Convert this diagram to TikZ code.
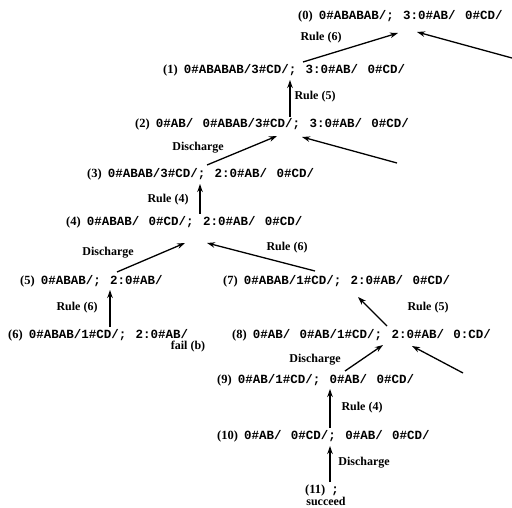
\documentclass[tikz,border=0pt]{standalone}
\usepackage{fontspec}
\setmainfont{Liberation Serif}
\newfontfamily\codefont[WordSpace=1.25]{Liberation Mono}
\usetikzlibrary{arrows.meta}
\newcommand{\cd}[1]{{\codefont\bfseries\fontsize{12.5}{14}\selectfont #1}}
\newcommand{\stp}[2]{(#1)\hspace{6pt}\cd{#2}}
\tikzset{
  line/.style={anchor=west, inner sep=0pt, font=\bfseries\fontsize{12.5}{14}\selectfont},
  lab/.style={inner sep=0pt, font=\bfseries\fontsize{12}{14}\selectfont},
  arr/.style={-{Stealth[length=8pt,width=5.5pt]}, line width=1.3pt},
}
\begin{document}
\begin{tikzpicture}[x=1pt,y=-1pt]
\useasboundingbox (0,0) rectangle (512,508);
\node[line] (n0) at (298,16) {\stp{0}{0\#ABABAB/; 3:0\#AB/ 0\#CD/}};
\node[line] (n1) at (163,70) {\stp{1}{0\#ABABAB/3\#CD/; 3:0\#AB/ 0\#CD/}};
\node[line] (n2) at (135,124) {\stp{2}{0\#AB/ 0\#ABAB/3\#CD/; 3:0\#AB/ 0\#CD/}};
\node[line] (n3) at (87,174) {\stp{3}{0\#ABAB/3\#CD/; 2:0\#AB/ 0\#CD/}};
\node[line] (n4) at (66,222) {\stp{4}{0\#ABAB/ 0\#CD/; 2:0\#AB/ 0\#CD/}};
\node[line] (n5) at (20,281) {\stp{5}{0\#ABAB/; 2:0\#AB/}};
\node[line] (n6) at (8,335) {\stp{6}{0\#ABAB/1\#CD/; 2:0\#AB/}};
\node[line] (n7) at (223,281) {\stp{7}{0\#ABAB/1\#CD/; 2:0\#AB/ 0\#CD/}};
\node[line] (n8) at (232,335) {\stp{8}{0\#AB/ 0\#AB/1\#CD/; 2:0\#AB/ 0:CD/}};
\node[line] (n9) at (217,380) {\stp{9}{0\#AB/1\#CD/; 0\#AB/ 0\#CD/}};
\node[line] (n10) at (217,436) {\stp{10}{0\#AB/ 0\#CD/; 0\#AB/ 0\#CD/}};
\node[line] (n11) at (305,490) {\stp{11}{;}};

\node[lab] (l1) at (321,38) {Rule (6)};
\node[lab] (l2) at (315,97) {Rule (5)};
\node[lab] (l3) at (198,148) {Discharge};
\node[lab] (l4) at (168,200) {Rule (4)};
\node[lab] (l5) at (108,253) {Discharge};
\node[lab] (l6) at (287,248) {Rule (6)};
\node[lab] (l7) at (77,308) {Rule (6)};
\node[lab] (l8) at (428,308) {Rule (5)};
\node[lab] (fail) at (188,347) {fail (b)};
\node[lab] (l9) at (315,360) {Discharge};
\node[lab] (l10) at (362,408) {Rule (4)};
\node[lab] (l11) at (364,463) {Discharge};
\node[lab] (succ) at (326,501) {succeed};

\coordinate (c0) at (512,58);
\coordinate (c2) at (397,163);
\coordinate (c8) at (463,373);

\draw[arr] ([shift={(140,-8)}]n1.west) -- ([shift={(100,17)}]n0.west);
\draw[arr] (c0) -- ([shift={(119,16)}]n0.west);
\draw[arr] ([shift={(155,-7)}]n2.west) -- ([shift={(127,10)}]n1.west);
\draw[arr] ([shift={(120,-9)}]n3.west) -- ([shift={(142,12)}]n2.west);
\draw[arr] (c2) -- ([shift={(167,13)}]n2.west);
\draw[arr] ([shift={(134,-8)}]n4.west) -- ([shift={(113,10)}]n3.west);
\draw[arr] ([shift={(97,-9)}]n5.west) -- ([shift={(119,21)}]n4.west);
\draw[arr] ([shift={(92,-10)}]n7.west) -- ([shift={(141,21)}]n4.west);
\draw[arr] ([shift={(102,-8)}]n6.west) -- ([shift={(90,9)}]n5.west);
\draw[arr] ([shift={(155,-9)}]n8.west) -- ([shift={(135,16)}]n7.west);
\draw[arr] ([shift={(128,-9)}]n9.west) -- ([shift={(151,10)}]n8.west);
\draw[arr] (c8) -- ([shift={(180,11)}]n8.west);
\draw[arr] ([shift={(113,-8)}]n10.west) -- ([shift={(113,9)}]n9.west);
\draw[arr] ([shift={(25,-8)}]n11.west) -- ([shift={(113,10)}]n10.west);
\end{tikzpicture}
\end{document}
